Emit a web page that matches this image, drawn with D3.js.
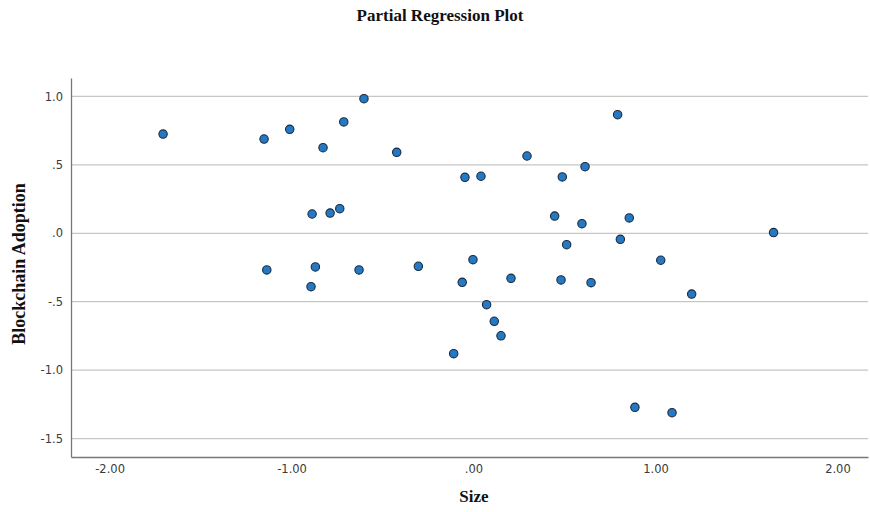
<!DOCTYPE html>
<html>
<head>
<meta charset="utf-8">
<script src="https://cdn.jsdelivr.net/npm/d3@7"></script>
<style>
  body { margin: 0; background: #fff; }
  .tick text { font-family: "DejaVu Sans", sans-serif; font-size: 11.5px; fill: #3a3a3a; }
</style>
</head>
<body>
<script>
// partial regression residuals (Size vs Blockchain Adoption)
var sizeValues = [-1.706, -1.151, -1.010, -0.827, -0.713, -0.602, -0.422, -0.047, 0.041, 0.294,
  0.488, 0.613, 0.792, -0.887, -0.788, -0.735, 0.446, 0.596, 0.856, 0.512,
  0.807, 1.649, 1.029, 1.199, 0.646, 0.887, 1.091, -1.136, -0.869, -0.893,
  -0.629, -0.303, -0.003, -0.062, 0.206, 0.481, 0.072, 0.114, 0.151, -0.109];
var adoptionValues = [0.725, 0.689, 0.760, 0.626, 0.814, 0.984, 0.592, 0.409, 0.417, 0.565,
  0.412, 0.487, 0.867, 0.141, 0.148, 0.180, 0.126, 0.070, 0.112, -0.083,
  -0.044, 0.005, -0.197, -0.444, -0.361, -1.272, -1.311, -0.268, -0.246, -0.390,
  -0.268, -0.241, -0.193, -0.358, -0.329, -0.341, -0.522, -0.643, -0.749, -0.880];
var xTicks = [-2, -1, 0, 1, 2];
var xTickLabels = ["-2.00", "-1.00", ".00", "1.00", "2.00"];
var yTicks = [1, 0.5, 0, -0.5, -1, -1.5];
var yTickLabels = ["1.0", ".5", ".0", "-.5", "-1.0", "-1.5"];

var width = 870,
  height = 512,
  plotLeft = 71,
  plotRight = 868,
  plotTop = 78,
  plotBottom = 457;

var svg = d3.select("body").append("svg")
  .attr("width", width)
  .attr("height", height);

var x = d3.scaleLinear().domain([-2.212, 2.168]).range([plotLeft, plotRight]);
var y = d3.scaleLinear().domain([-1.635, 1.135]).range([plotBottom, plotTop]);

// gridlines
svg.selectAll(".grid")
  .data(yTicks)
  .enter().append("line")
  .attr("class", "grid")
  .attr("x1", plotLeft)
  .attr("x2", plotRight)
  .attr("y1", function (d) { return y(d); })
  .attr("y2", function (d) { return y(d); })
  .attr("stroke", "#c6c6c6")
  .attr("stroke-width", 1.2);

var xAxis = d3.axisBottom(x)
  .tickValues(xTicks)
  .tickSize(0)
  .tickPadding(8)
  .tickFormat(function (d, i) { return xTickLabels[i]; });

var yAxis = d3.axisLeft(y)
  .tickValues(yTicks)
  .tickSize(0)
  .tickPadding(8)
  .tickFormat(function (d, i) { return yTickLabels[i]; });

var gx = svg.append("g")
  .attr("transform", "translate(0," + plotBottom + ")")
  .call(xAxis);
gx.select(".domain").attr("stroke", "#777").attr("stroke-width", 1.3);

var gy = svg.append("g")
  .attr("transform", "translate(" + plotLeft + ",0)")
  .call(yAxis);
gy.select(".domain").attr("stroke", "#777").attr("stroke-width", 1.3);

var points = sizeValues.map(function (v, i) { return [v, adoptionValues[i]]; });

svg.selectAll(".dot")
  .data(points)
  .enter().append("circle")
  .attr("class", "dot")
  .attr("cx", function (d) { return x(d[0]); })
  .attr("cy", function (d) { return y(d[1]); })
  .attr("r", 4.2)
  .attr("fill", "#2479c4")
  .attr("stroke", "#1b2a3d")
  .attr("stroke-width", 1.1);

// titles
svg.append("text")
  .attr("x", 440)
  .attr("y", 21)
  .attr("text-anchor", "middle")
  .style("font-family", "'Liberation Serif', serif")
  .style("font-weight", "bold")
  .style("font-size", "17px")
  .attr("fill", "#111")
  .text("Partial Regression Plot");

svg.append("text")
  .attr("x", 474)
  .attr("y", 502)
  .attr("text-anchor", "middle")
  .style("font-family", "'Liberation Serif', serif")
  .style("font-weight", "bold")
  .style("font-size", "17px")
  .attr("fill", "#111")
  .text("Size");

svg.append("text")
  .attr("transform", "translate(25,264) rotate(-90)")
  .attr("text-anchor", "middle")
  .style("font-family", "'Liberation Serif', serif")
  .style("font-weight", "bold")
  .style("font-size", "18px")
  .attr("fill", "#111")
  .text("Blockchain Adoption");
</script>
</body>
</html>
